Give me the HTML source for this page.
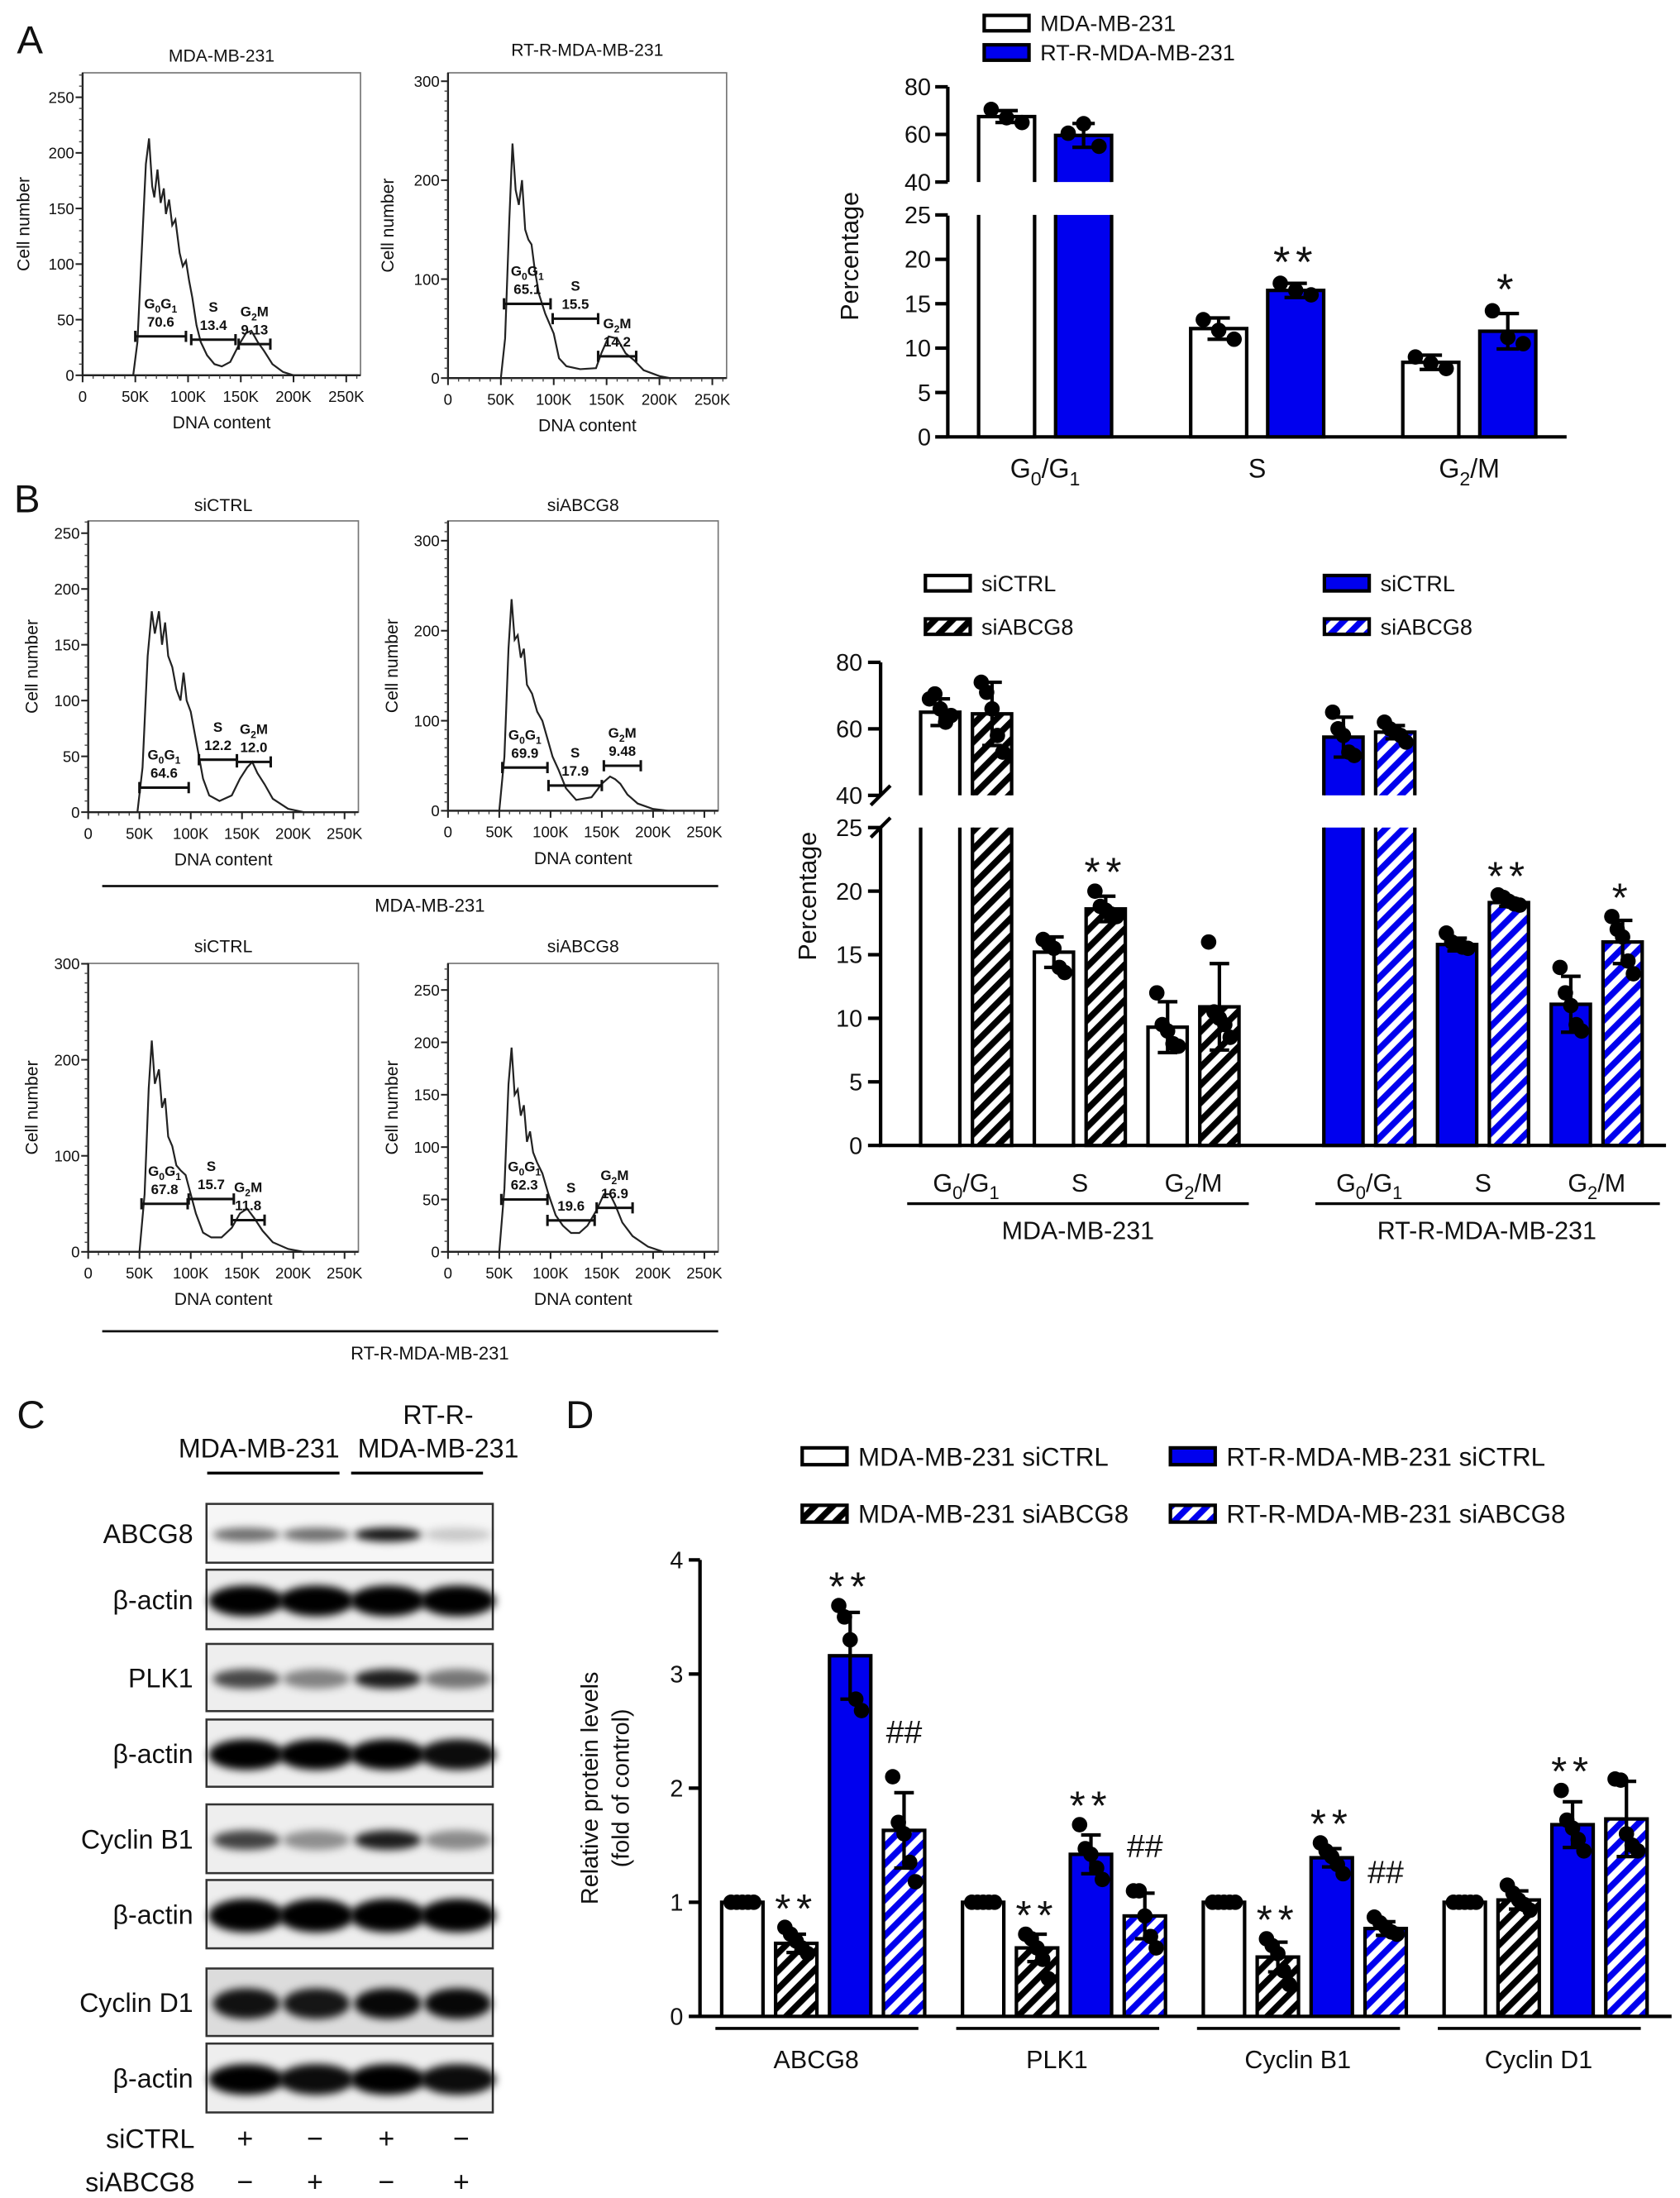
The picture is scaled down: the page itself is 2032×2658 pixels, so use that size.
<!DOCTYPE html>
<html><head><meta charset="utf-8">
<style>html,body{margin:0;padding:0;background:#fff}svg{display:block}text{font-family:"Liberation Sans",Arial,sans-serif;fill:#111}</style>
</head><body>
<svg id="fig" xmlns="http://www.w3.org/2000/svg" width="2032" height="2658" viewBox="0 0 1200 1569.7" preserveAspectRatio="none">
<defs>
<pattern id="hatchK" patternUnits="userSpaceOnUse" width="9" height="9" patternTransform="rotate(45)"><rect width="9" height="9" fill="#fff"/><rect width="4.5" height="9" fill="#000"/></pattern>
<pattern id="hatchB" patternUnits="userSpaceOnUse" width="9" height="9" patternTransform="rotate(45)"><rect width="9" height="9" fill="#fff"/><rect width="4.5" height="9" fill="#0000ee"/></pattern>
<filter id="blur" x="-30%" y="-80%" width="160%" height="260%"><feGaussianBlur stdDeviation="3"/></filter>
</defs>
</svg>
<script>
// ---------- Flow cytometry histogram data (x in K, y = cell count) ----------
const flowA1 = [[0,0],[48,0],[52,30],[57,130],[60,190],[63,213],[66,170],[68,160],[71,185],[74,155],[77,168],[79,145],[82,158],[85,135],[88,140],[92,110],[95,98],[98,103],[101,85],[104,70],[108,45],[112,30],[118,18],[125,10],[132,8],[140,12],[148,27],[155,38],[160,40],[166,30],[172,22],[180,10],[190,3],[200,0],[262,0]];
const flowA2 = [[0,0],[50,0],[54,40],[58,160],[61,237],[64,190],[67,175],[70,200],[73,150],[76,140],[79,135],[82,110],[86,85],[92,65],[100,45],[105,20],[112,12],[125,9],[140,10],[145,25],[152,42],[160,40],[168,25],[176,18],[185,8],[200,2],[210,0],[262,0]];
const flowB1 = [[0,0],[48,0],[53,40],[58,140],[62,180],[65,160],[69,180],[72,150],[75,170],[78,140],[82,130],[86,110],[90,100],[93,125],[96,100],[100,90],[104,70],[108,50],[112,30],[118,15],[128,10],[140,15],[148,30],[155,40],[160,45],[165,35],[172,25],[180,12],[195,3],[210,0],[262,0]];
const flowB2 = [[0,0],[50,0],[55,60],[59,180],[62,235],[65,190],[68,195],[71,170],[74,180],[77,140],[82,130],[87,110],[92,100],[97,80],[102,60],[108,45],[115,25],[125,12],[140,15],[150,30],[158,38],[163,35],[168,30],[175,18],[185,8],[200,2],[215,0],[262,0]];
const flowB3 = [[0,0],[50,0],[55,60],[59,170],[62,220],[65,175],[69,190],[72,150],[75,160],[78,120],[82,110],[86,90],[90,85],[95,80],[100,60],[105,40],[112,20],[120,15],[130,15],[140,25],[148,40],[155,45],[162,35],[170,22],[180,10],[195,3],[210,0],[262,0]];
const flowB4 = [[0,0],[50,0],[55,60],[59,160],[62,195],[65,150],[68,155],[71,130],[74,140],[77,105],[80,115],[83,95],[87,85],[92,75],[98,55],[105,35],[112,25],[120,18],[128,18],[136,25],[145,40],[152,55],[158,55],[163,45],[170,28],[180,15],[195,5],[210,0],[262,0]];
// gates: [xStartK, xEndK, yCount, label, percent]
const gatesA1 = [[50,98,35,'G0G1','70.6'],[103,145,32,'S','13.4'],[148,178,28,'G2M','9.13']];
const gatesA2 = [[53,97,75,'G0G1','65.1'],[99,142,60,'S','15.5'],[142,178,22,'G2M','14.2']];
const gatesB1 = [[50,98,22,'G0G1','64.6'],[108,145,47,'S','12.2'],[145,178,45,'G2M','12.0']];
const gatesB2 = [[53,97,48,'G0G1','69.9'],[98,150,28,'S','17.9'],[152,188,50,'G2M','9.48']];
const gatesB3 = [[52,97,50,'G0G1','67.8'],[98,142,55,'S','15.7'],[140,172,33,'G2M','11.8']];
const gatesB4 = [[52,97,50,'G0G1','62.3'],[97,143,30,'S','19.6'],[145,180,42,'G2M','16.9']];
const flowXTicks = [0,50,100,150,200,250];
const flowXTickLabels = ['0','50K','100K','150K','200K','250K'];

// ---------- Panel A bar chart ----------
const catA = ['G0/G1','S','G2/M'];
const meanA_MDA = [67.5,12.2,8.4];
const sdA_MDA = [2.5,1.2,0.8];
const dotsA_MDA = [[70.5,67,65],[13.2,12,11],[9,8.3,7.7]];
const meanA_RT = [59.6,16.5,11.9];
const sdA_RT = [5,0.8,2];
const dotsA_RT = [[60.5,64.5,55],[17.3,16.5,16],[14.2,11.2,10.5]];
const sigA_RT = ['','**','*'];
const ticksA_low = [0,5,10,15,20,25];
const ticksA_high = [40,60,80];

// ---------- Panel B bar chart ----------
const catB = ['G0/G1','S','G2/M'];
const meanB_MDActrl = [65,15.2,9.3];
const meanB_MDAsi = [64.5,18.6,10.9];
const meanB_RTctrl = [57.5,15.8,11.1];
const meanB_RTsi = [59,19.1,16.0];
const sdB_MDActrl = [4,1.2,2];
const sdB_MDAsi = [9.5,1,3.4];
const sdB_RTctrl = [6,0.5,2.2];
const sdB_RTsi = [2,0.3,1.7];
const dotsB_MDActrl = [[69,70.5,66,62,64],[16.2,15.8,15.5,14,13.6],[12,9.5,9,8,7.8]];
const dotsB_MDAsi = [[74,71,66,58,53],[20,18.8,18.5,18.2,18],[16,10.5,10,9.5,8.5]];
const dotsB_RTctrl = [[65,60,58,53,52],[16.7,16,15.8,15.6,15.5],[14,12,11,9.5,9]];
const dotsB_RTsi = [[62,60,59,58,56],[19.7,19.5,19.2,19,18.9],[18,17,16.4,14.5,13.5]];
const sigB_MDAsi = ['','**',''];
const sigB_RTsi = ['','**','*'];
const ticksB_low = [0,5,10,15,20,25];
const ticksB_high = [40,60,80];

// ---------- Panel D bar chart ----------
const catD = ['ABCG8','PLK1','Cyclin B1','Cyclin D1'];
const meanD_MDActrl = [1,1,1,1];
const meanD_MDAsi = [0.64,0.6,0.52,1.02];
const meanD_RTctrl = [3.16,1.42,1.39,1.68];
const meanD_RTsi = [1.63,0.88,0.77,1.73];
const sdD_MDActrl = [0,0,0,0];
const sdD_MDAsi = [0.08,0.12,0.13,0.08];
const sdD_RTctrl = [0.38,0.17,0.08,0.2];
const sdD_RTsi = [0.33,0.2,0.06,0.33];
const dotsD_MDActrl = [[1,1,1,1,1],[1,1,1,1,1],[1,1,1,1,1],[1,1,1,1,1]];
const dotsD_MDAsi = [[0.78,0.72,0.66,0.6,0.55],[0.72,0.68,0.6,0.5,0.33],[0.68,0.62,0.55,0.4,0.28],[1.15,1.08,1.02,0.98,0.93]];
const dotsD_RTctrl = [[3.6,3.5,3.3,2.78,2.68],[1.68,1.47,1.42,1.3,1.2],[1.52,1.45,1.4,1.33,1.25],[1.98,1.72,1.65,1.55,1.45]];
const dotsD_RTsi = [[2.1,1.7,1.6,1.35,1.18],[1.1,1.1,0.88,0.7,0.6],[0.87,0.82,0.78,0.74,0.72],[2.08,2.07,1.6,1.5,1.45]];
const sigD_MDAsi = ['**','**','**',''];
const sigD_RTctrl = ['**','**','**','**'];
const sigD_RTsi = ['##','##','##',''];
const ticksD = [0,1,2,3,4];

// ---------- Panel C western blot ----------
const blotLabels = ['ABCG8','β-actin','PLK1','β-actin','Cyclin B1','β-actin','Cyclin D1','β-actin'];
const blotBands = [[0.55,0.55,0.92,0.18],[1,1,1,1],[0.7,0.45,0.88,0.5],[1,1,1,0.95],[0.72,0.4,0.88,0.42],[1,1,1,1],[0.92,0.9,0.97,0.97],[1,0.95,1,0.95]];
const siCTRLsigns = ['+','−','+','−'];
const siABCG8signs = ['−','+','−','+'];

const NS = 'http://www.w3.org/2000/svg';
const svg = document.getElementById('fig');
function el(tag, attrs, parent, text){
  const e = document.createElementNS(NS, tag);
  for (const k in attrs) e.setAttribute(k, attrs[k]);
  if (text !== undefined) e.textContent = text;
  (parent || svg).appendChild(e);
  return e;
}
function subText(t, s, fs){
  let sub = false;
  for (const ch of s){
    const isD = /[0-9]/.test(ch);
    const ts = el('tspan', {}, t, ch);
    if (isD && !sub){ ts.setAttribute('dy', fs*0.3); ts.setAttribute('font-size', fs*0.72); sub = true; }
    else if (isD){ ts.setAttribute('font-size', fs*0.72); }
    else if (sub){ ts.setAttribute('dy', -fs*0.3); sub = false; }
  }
}

[['A',12,38],['B',10,366],['C',12,1020],['D',404,1020]].forEach(p=>{
  const t = el('text',{x:p[1],y:p[2],'font-size':28},svg,p[0]);
  
  
});

function drawFlow(name, c, curve, gates, yTicks){
  const g = el('g',{});
  
  
  const sx = v => c.l + v/263.5*(c.r-c.l);
  const sy = v => c.b - v/c.ymax*(c.b-c.t);
  const box = el('rect',{x:c.l,y:c.t,width:c.r-c.l,height:c.b-c.t,fill:'none',stroke:'#777','stroke-width':1},g);
  
  
  const ax = el('path',{d:`M${c.l},${c.t} L${c.l},${c.b} L${c.r},${c.b}`,fill:'none',stroke:'#222','stroke-width':1.4},g);
  
  
  for (let v=0; v<=c.ymax; v+=10){
    const tk = el('line',{x1:c.l-2.5,x2:c.l,y1:sy(v),y2:sy(v),stroke:'#444','stroke-width':0.8},g);
    
    
  }
  yTicks.forEach(v=>{
    const tk = el('line',{x1:c.l-5,x2:c.l,y1:sy(v),y2:sy(v),stroke:'#222','stroke-width':1.2},g);
    
    
    const tl = el('text',{x:c.l-6,y:sy(v)+4,'font-size':11,'text-anchor':'end',fill:'#333'},g,String(v));
    
    
  });
  for (let v=0; v<=260; v+=10){
    const tk = el('line',{x1:sx(v),x2:sx(v),y1:c.b,y2:c.b+2.5,stroke:'#444','stroke-width':0.8},g);
    
    
  }
  flowXTicks.forEach((v,i)=>{
    const tk = el('line',{x1:sx(v),x2:sx(v),y1:c.b,y2:c.b+5,stroke:'#222','stroke-width':1.2},g);
    
    
    const tl = el('text',{x:sx(v),y:c.b+19,'font-size':11,'text-anchor':'middle',fill:'#333'},g,flowXTickLabels[i]);
    
    
  });
  const pl = el('polyline',{points:curve.map(p=>sx(p[0])+','+sy(p[1])).join(' '),fill:'none',stroke:'#222','stroke-width':1.3},g);
  
  
  gates.forEach(gt=>{
    const x1=sx(gt[0]), x2=sx(gt[1]), y=sy(gt[2]);
    const gl = el('path',{d:`M${x1},${y} L${x2},${y} M${x1},${y-4} L${x1},${y+4} M${x2},${y-4} L${x2},${y+4}`,stroke:'#111','stroke-width':1.8,fill:'none'},g);
    
    
    const cx=(x1+x2)/2;
    const t1 = el('text',{x:cx,y:y-20,'font-size':10,'font-weight':'bold','text-anchor':'middle',fill:'#333'},g);
    subText(t1, gt[3], 10);
    
    
    const t2 = el('text',{x:cx,y:y-7,'font-size':10,'font-weight':'bold','text-anchor':'middle',fill:'#333'},g,gt[4]);
    
    
  });
  const tt = el('text',{x:(c.l+c.r)/2,y:c.titleY,'font-size':12.5,'text-anchor':'middle'},g,c.title);
  
  
  const xt = el('text',{x:(c.l+c.r)/2,y:c.b+38,'font-size':12.5,'text-anchor':'middle'},g,'DNA content');
  
  
  const yt = el('text',{x:0,y:0,'font-size':12.5,'text-anchor':'middle',transform:`translate(${c.cx},${(c.t+c.b)/2}) rotate(-90)`},g,'Cell number');
  
  
}
drawFlow('flow-a-mda',{l:59,r:257.5,t:52,b:268,ymax:272,title:'MDA-MB-231',titleY:44,cx:21},flowA1,gatesA1,[0,50,100,150,200,250]);
drawFlow('flow-a-rtr',{l:320,r:519,t:52,b:270,ymax:308.5,title:'RT-R-MDA-MB-231',titleY:40,cx:281},flowA2,gatesA2,[0,100,200,300]);
drawFlow('flow-b-mda-sictrl',{l:63,r:256,t:372,b:580,ymax:261,title:'siCTRL',titleY:365,cx:27},flowB1,gatesB1,[0,50,100,150,200,250]);
drawFlow('flow-b-mda-siabcg8',{l:320,r:513,t:372,b:579,ymax:322,title:'siABCG8',titleY:365,cx:284},flowB2,gatesB2,[0,100,200,300]);
drawFlow('flow-b-rtr-sictrl',{l:63,r:256,t:688,b:894,ymax:300.4,title:'siCTRL',titleY:680,cx:27},flowB3,gatesB3,[0,100,200,300]);
drawFlow('flow-b-rtr-siabcg8',{l:320,r:513,t:688,b:894,ymax:275.4,title:'siABCG8',titleY:680,cx:284},flowB4,gatesB4,[0,50,100,150,200,250]);
[[632.8,646,'MDA-MB-231'],[950.7,966,'RT-R-MDA-MB-231']].forEach(r=>{
  const ln = el('line',{x1:73,x2:513,y1:r[0],y2:r[0],stroke:'#111','stroke-width':1.6});
  
  
  const t = el('text',{x:307,y:r[1]+5,'font-size':13,'text-anchor':'middle'},svg,r[2]);
  
  
});

function bar(g, x, w, v, yfn, fill, brk, sw){
  if (brk && v > brk[1]){
    const parts = [[yfn(brk[0]), yfn(0)],[yfn(v), yfn(brk[1])]];
    parts.forEach((p,k)=>{
      const r = el('rect',{x:x,y:p[0],width:w,height:p[1]-p[0],fill:fill,stroke:'none'},g);
      
      
      const d = k===0 ? `M${x},${p[0]} L${x},${p[1]} L${x+w},${p[1]} L${x+w},${p[0]}` : `M${x},${p[1]} L${x},${p[0]} L${x+w},${p[0]} L${x+w},${p[1]}`;
      const o = el('path',{d:d,fill:'none',stroke:'#000','stroke-width':sw},g);
      
      
    });
  } else {
    const r = el('rect',{x:x,y:yfn(v),width:w,height:yfn(0)-yfn(v),fill:fill,stroke:'#000','stroke-width':sw},g);
    
    
  }
}
function errbar(g, cx, m, sd, yfn, cap, sw){
  if (sd<=0) return;
  const y1=yfn(m-sd), y2=yfn(m+sd);
  const e = el('path',{d:`M${cx},${y1} L${cx},${y2} M${cx-cap/2},${y2} L${cx+cap/2},${y2} M${cx-cap/2},${y1} L${cx+cap/2},${y1}`,stroke:'#000','stroke-width':sw,fill:'none'},g);
  
  
}
function dots(g, cx, w, arr, yfn, r){
  const n = arr.length;
  arr.forEach((v,j)=>{
    const dx = n>1 ? (j-(n-1)/2)*(w*0.55/(n-1)) : 0;
    const c = el('circle',{cx:cx+dx,cy:yfn(v),r:r,fill:'#000'},g);
    
    
  });
}
function sig(g, cx, topY, s, fs){
  if (!s) return;
  const isHash = s[0]==='#';
  const t = el('text',{x:cx,y: isHash ? topY-14 : topY-8+fs*0.5,'font-size':isHash?fs*0.8:fs,'text-anchor':'middle','letter-spacing':isHash?0:4,fill:'#333'},g,s);
  
  
}
function catLabel(g, x, y, s, fs){
  const t = el('text',{x:x,y:y,'font-size':fs,'text-anchor':'middle'},g);
  subText(t, s, fs);
  
  
}
function legendItem(g, x, y, w, h, fill, label, fs){
  const r = el('rect',{x:x,y:y,width:w,height:h,fill:fill,stroke:'#000','stroke-width':2.5},g);
  
  
  const t = el('text',{x:x+w+8,y:y+h/2+fs*0.36,'font-size':fs},g,label);
  
  
}

// ---------- Panel A chart ----------
(function(){
  const g = el('g',{});
  
  
  const yA = v => v>=40 ? 130-(v-40)*1.7 : 312-v*6.34;
  const AX = 677;
  const a1 = el('path',{d:`M${AX},62 L${AX},130 M${AX},154 L${AX},312 L1119,312`,stroke:'#000','stroke-width':2.5,fill:'none'},g);
  
  
  ticksA_low.concat(ticksA_high).forEach(v=>{
    const tk = el('line',{x1:AX-9,x2:AX,y1:yA(v),y2:yA(v),stroke:'#000','stroke-width':2.5},g);
    
    
    const tl = el('text',{x:AX-12,y:yA(v)+6,'font-size':17,'text-anchor':'end'},g,String(v));
    
    
  });
  const yt = el('text',{x:0,y:0,'font-size':18,'text-anchor':'middle',transform:'translate(613,183) rotate(-90)'},g,'Percentage');
  
  
  const W=40;
  catA.forEach((c,i)=>{
    const x0 = 699+i*151.5, x1 = x0+55;
    bar(g,x0,W,meanA_MDA[i],yA,'#fff',[25,40],2.5);
    bar(g,x1,W,meanA_RT[i],yA,'#0000ee',[25,40],2.5);
    errbar(g,x0+W/2,meanA_MDA[i],sdA_MDA[i],yA,16,2.5);
    errbar(g,x1+W/2,meanA_RT[i],sdA_RT[i],yA,16,2.5);
    dots(g,x0+W/2,W,dotsA_MDA[i],yA,5.5);
    dots(g,x1+W/2,W,dotsA_RT[i],yA,5.5);
    const top = Math.min(yA(meanA_RT[i]+sdA_RT[i]), ...dotsA_RT[i].map(yA));
    sig(g,x1+W/2,top-12,sigA_RT[i],31);
    catLabel(g,(x0+x1+W)/2,341,c,19);
  });
  legendItem(g,703,11,32,11,'#fff','MDA-MB-231',16);
  legendItem(g,703,32,32,11,'#0000ee','RT-R-MDA-MB-231',16);
})();

// ---------- Panel B chart ----------
(function(){
  const g = el('g',{});
  
  
  const yB = v => v>=40 ? 568-(v-40)*2.375 : 818-v*9.08;
  const AX = 629;
  const a1 = el('path',{d:`M${AX},473 L${AX},568 M${AX},591 L${AX},818 L1190,818`,stroke:'#000','stroke-width':2.5,fill:'none'},g);
  
  
  const bk = el('path',{d:`M${AX-7},${575} L${AX+7},${561} M${AX-7},${598} L${AX+7},${584}`,stroke:'#000','stroke-width':2.5,fill:'none'},g);
  
  
  ticksB_low.concat(ticksB_high).forEach(v=>{
    const tk = el('line',{x1:AX-9,x2:AX,y1:yB(v),y2:yB(v),stroke:'#000','stroke-width':2.5},g);
    
    
    const tl = el('text',{x:AX-13,y:yB(v)+6,'font-size':17,'text-anchor':'end'},g,String(v));
    
    
  });
  const yt = el('text',{x:0,y:0,'font-size':18,'text-anchor':'middle',transform:'translate(583,640) rotate(-90)'},g,'Percentage');
  
  
  const W=28;
  const series = [
    [meanB_MDActrl,sdB_MDActrl,dotsB_MDActrl,'#fff',0,0,null],
    [meanB_MDAsi,sdB_MDAsi,dotsB_MDAsi,'url(#hatchK)',0,1,sigB_MDAsi],
    [meanB_RTctrl,sdB_RTctrl,dotsB_RTctrl,'#0000ee',1,0,null],
    [meanB_RTsi,sdB_RTsi,dotsB_RTsi,'url(#hatchB)',1,1,sigB_RTsi]];
  series.forEach(s=>{
    catB.forEach((c,i)=>{
      const x = 657.6 + s[4]*288 + i*81.2 + s[5]*37;
      bar(g,x,W,s[0][i],yB,s[3],[25,40],2.5);
      errbar(g,x+W/2,s[0][i],s[1][i],yB,14,2.5);
      dots(g,x+W/2,W,s[2][i],yB,5.5);
      if (s[6]){
        const top = Math.min(yB(s[0][i]+s[1][i]), ...s[2][i].map(yB));
        sig(g,x+W/2,top-10,s[6][i],29);
      }
    });
  });
  [0,1].forEach(cell=>{
    catB.forEach((c,i)=>{
      catLabel(g,657.6+cell*288+i*81.2+32.5,851,c,18);
    });
    const ln = el('line',{x1:648+cell*291.5,x2:892+cell*293.6,y1:859.6,y2:859.6,stroke:'#000','stroke-width':2},g);
    
    
    const t = el('text',{x:770+cell*292,y:885,'font-size':18,'text-anchor':'middle'},g,cell?'RT-R-MDA-MB-231':'MDA-MB-231');
    
    
  });
  legendItem(g,661,411,32,11,'#fff','siCTRL',16);
  legendItem(g,661,442,32,11,'url(#hatchK)','siABCG8',16);
  legendItem(g,946,411,32,11,'#0000ee','siCTRL',16);
  legendItem(g,946,442,32,11,'url(#hatchB)','siABCG8',16);
})();

// ---------- Panel C blots ----------
(function(){
  const g = el('g',{});
  
  
  const rows = [[1074,1116],[1121,1163.5],[1174,1222],[1228,1276],[1288.6,1337.7],[1342.6,1391.4],[1405.8,1454],[1459.4,1508.6]];
  const lanes = [176,226,277,327];
  const thick = [5,11,7,11,7,12,11,11];
  blotLabels.forEach((lab,i)=>{
    const r = rows[i];
    const bg = el('rect',{x:147.5,y:r[0],width:204.5,height:r[1]-r[0],fill:i===6?'#dcdcdc':(i===0?'#f6f6f6':'#eeeeee'),stroke:'#333','stroke-width':1.5},g);
    
    
    blotBands[i].forEach((v,j)=>{
      const b = el('ellipse',{cx:lanes[j],cy:(r[0]+r[1])/2+1,rx:i%2?27:24,ry:thick[i],fill:'#000','fill-opacity':v,filter:'url(#blur)'},g);
      
      
    });
    const t = el('text',{x:138,y:(r[0]+r[1])/2+7,'font-size':19,'text-anchor':'end'},g,lab);
    
    
  });
  [[185,1041,'MDA-MB-231'],[313,1017,'RT-R-'],[313,1041,'MDA-MB-231']].forEach(h=>{
    const t = el('text',{x:h[0],y:h[1],'font-size':19,'text-anchor':'middle'},g,h[2]);
    
    
  });
  [[148,242.5],[250.8,345]].forEach(l=>{
    const ln = el('line',{x1:l[0],x2:l[1],y1:1052,y2:1052,stroke:'#000','stroke-width':2},g);
    
    
  });
  [['siCTRL',1534,siCTRLsigns],['siABCG8',1565,siABCG8signs]].forEach(r=>{
    const t = el('text',{x:139,y:r[1],'font-size':19,'text-anchor':'end'},g,r[0]);
    
    
    r[2].forEach((s,j)=>{
      const st = el('text',{x:[175,225,276,329.5][j],y:r[1],'font-size':20,'text-anchor':'middle'},g,s);
      
      
    });
  });
})();

// ---------- Panel D chart ----------
(function(){
  const g = el('g',{});
  
  
  const yD = v => 1440 - v*81.5;
  const AX = 500;
  const a1 = el('path',{d:`M${AX},${yD(4)} L${AX},1440 L1194,1440`,stroke:'#000','stroke-width':2.5,fill:'none'},g);
  
  
  ticksD.forEach(v=>{
    const tk = el('line',{x1:AX-8,x2:AX,y1:yD(v),y2:yD(v),stroke:'#000','stroke-width':2.5},g);
    
    
    const tl = el('text',{x:AX-12,y:yD(v)+6,'font-size':17,'text-anchor':'end'},g,String(v));
    
    
  });
  const y1 = el('text',{x:0,y:0,'font-size':17,'text-anchor':'middle',transform:'translate(427,1277) rotate(-90)'},g,'Relative protein levels');
  
  
  const y2 = el('text',{x:0,y:0,'font-size':17,'text-anchor':'middle',transform:'translate(449,1277) rotate(-90)'},g,'(fold of control)');
  
  
  const W=29.5;
  const series = [
    [meanD_MDActrl,sdD_MDActrl,dotsD_MDActrl,'#fff',null],
    [meanD_MDAsi,sdD_MDAsi,dotsD_MDAsi,'url(#hatchK)',sigD_MDAsi],
    [meanD_RTctrl,sdD_RTctrl,dotsD_RTctrl,'#0000ee',sigD_RTctrl],
    [meanD_RTsi,sdD_RTsi,dotsD_RTsi,'url(#hatchB)',sigD_RTsi]];
  series.forEach((s,k)=>{
    catD.forEach((c,i)=>{
      const x = 515.5 + i*172 + k*38.5;
      bar(g,x,W,s[0][i],yD,s[3],null,2.5);
      errbar(g,x+W/2,s[0][i],s[1][i],yD,14,2.5);
      dots(g,x+W/2,W,s[2][i],yD,5.5);
      if (s[4]){
        const top = Math.min(yD(s[0][i]+s[1][i]), ...s[2][i].map(yD));
        sig(g,x+W/2,top-10,s[4][i],29);
      }
    });
  });
  catD.forEach((c,i)=>{
    const ln = el('line',{x1:511+i*172,x2:656+i*172,y1:1448.6,y2:1448.6,stroke:'#000','stroke-width':2.2},g);
    
    
    const t = el('text',{x:583+i*172,y:1477,'font-size':18,'text-anchor':'middle'},g,c);
    
    
  });
  legendItem(g,573,1034,32,12,'#fff','MDA-MB-231 siCTRL',18.5);
  legendItem(g,573,1075,32,12,'url(#hatchK)','MDA-MB-231 siABCG8',18.5);
  legendItem(g,836,1034,32,12,'#0000ee','RT-R-MDA-MB-231 siCTRL',18.5);
  legendItem(g,836,1075,32,12,'url(#hatchB)','RT-R-MDA-MB-231 siABCG8',18.5);
})();
</script>
</body></html>
